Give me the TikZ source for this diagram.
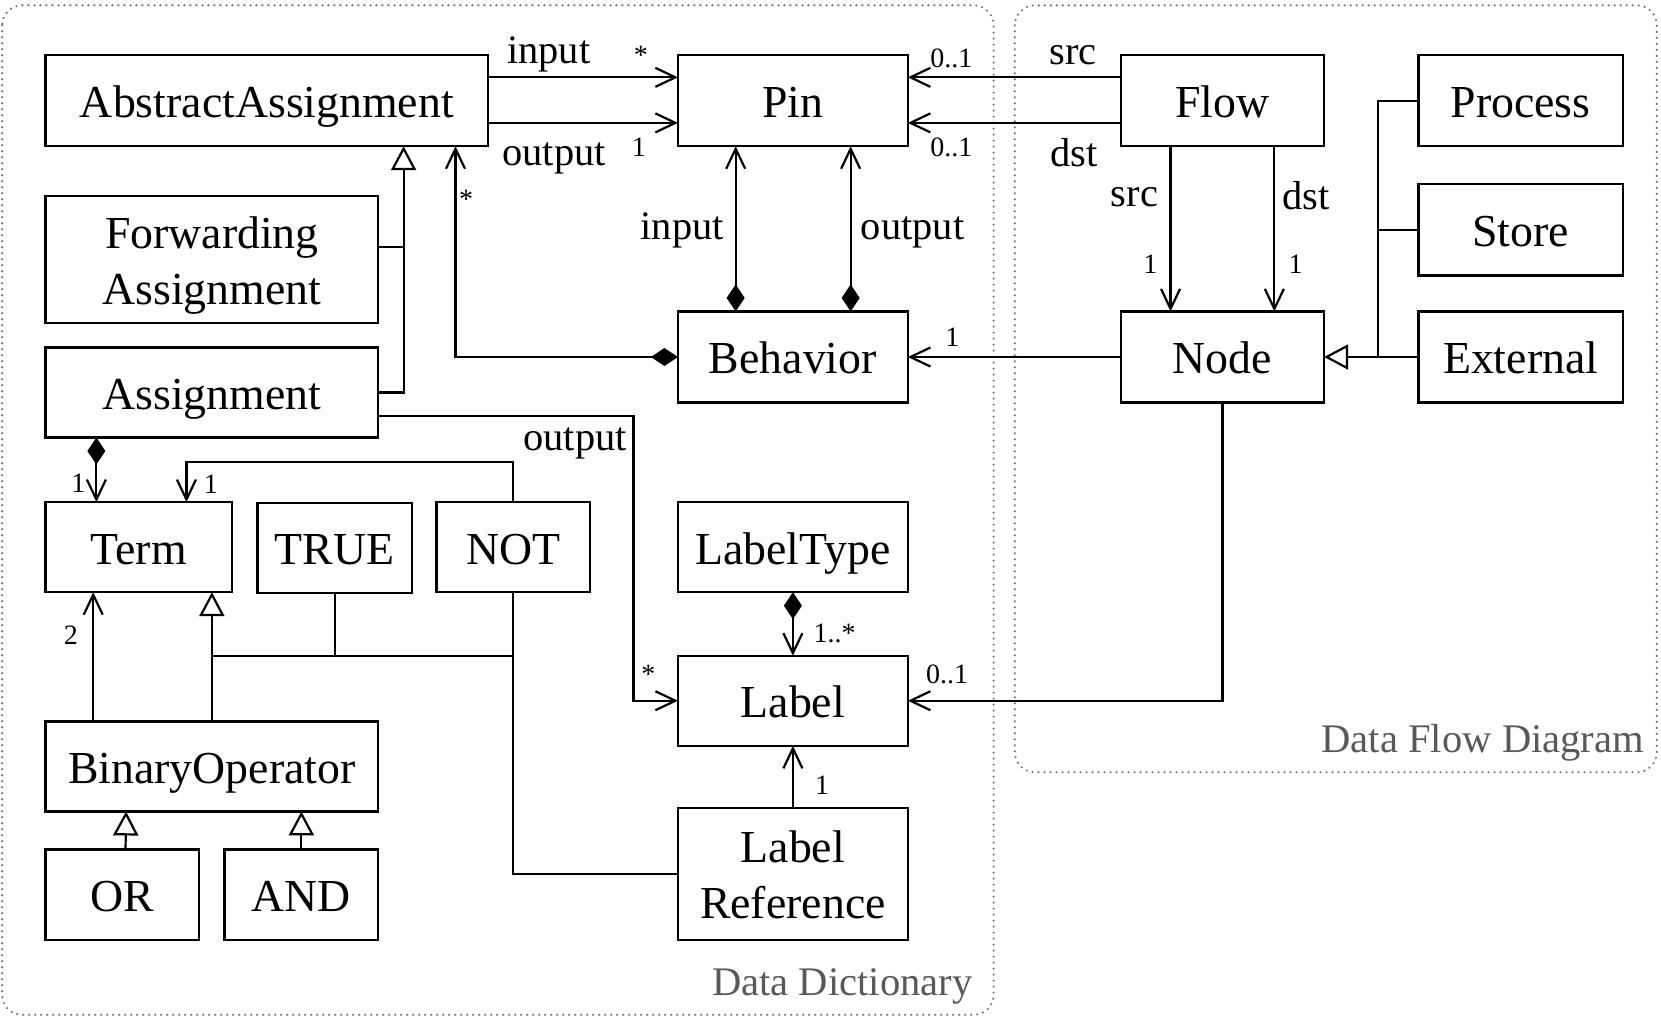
\documentclass[tikz,border=0pt]{standalone}
\usepackage{fontspec}
\setmainfont{Liberation Serif}
\usetikzlibrary{arrows.meta,calc}
\begin{document}
\begin{tikzpicture}[x=0.52966pt,y=-0.52966pt,
  every node/.style={inner sep=0pt, outer sep=0pt},
  cls/.style 2 args={draw, line width=1.1pt, minimum width=#1*0.52966pt, minimum height=#2*0.52966pt, font=\fontsize{22.9}{28}\selectfont, align=center, text depth=0pt, text height=17pt},
  twoline/.style={text height=44.5pt},
  lbl/.style={font=\fontsize{20.2}{24}\selectfont},
  mult/.style={font=\fontsize{14}{16}\selectfont},
  grp/.style={font=\fontsize{20.3}{24}\selectfont, text=black!65},
  conn/.style={line width=1.1pt},
  nav/.style={conn, -{Straight Barb[length=10pt,width=9.5pt]}},
  compnav/.style={conn, {Diamond[length=13.5pt,width=9pt]}-{Straight Barb[length=10pt,width=9.5pt]}},
  inh/.style={conn, -{Triangle[open,length=12pt,width=12.5pt,fill=white]}},
  container/.style={black!55, line width=1.2pt, dash pattern=on 0pt off 3pt, line cap=round, rounded corners=10pt}
]
\useasboundingbox (0,0) rectangle (1568,964);

% containers
\draw[container] (2,5) rectangle (938,958);
\draw[container] (958,5) rectangle (1564,729);
\node[grp, anchor=base east] (gdd) at (918,940) {Data Dictionary};
\node[grp, anchor=base east] (gdf) at (1552,710) {Data Flow Diagram};

% classes
\node[cls={418}{86}] (AA) at (252,95) {AbstractAssignment};
\node[cls={217}{86}] (Pin) at (748.5,95) {Pin};
\node[cls={192}{86}] (Flow) at (1154,95) {Flow};
\node[cls={193}{86}] (Process) at (1435.5,95) {Process};
\node[cls={314}{120}, twoline] (FA) at (200,245) {Forwarding\\Assignment};
\node[cls={193}{86}] (Store) at (1435.5,217) {Store};
\node[cls={314}{85}] (Assignment) at (200,370.5) {Assignment};
\node[cls={217}{86}] (Behavior) at (748.5,337) {Behavior};
\node[cls={192}{86}] (Node) at (1154,337) {Node};
\node[cls={193}{86}] (External) at (1435.5,337) {External};
\node[cls={176}{85}] (Term) at (131,516.5) {Term};
\node[cls={146}{85}] (TRUE) at (316,517) {TRUE};
\node[cls={145}{85}] (NOT) at (484.5,516.5) {NOT};
\node[cls={217}{85}] (LabelType) at (748.5,516.5) {LabelType};
\node[cls={217}{85}] (Label) at (748.5,661.5) {Label};
\node[cls={314}{85}] (BO) at (200,723.5) {BinaryOperator};
\node[cls={145}{85}] (OR) at (115.5,844.5) {OR};
\node[cls={145}{85}] (AND) at (284.5,844.5) {AND};
\node[cls={217}{124}, twoline] (LR) at (748.5,825) {Label\\Reference};

% AbstractAssignment -> Pin
\draw[nav] ($(AA.east)+(0,-22)$) -- ($(Pin.west)+(0,-22)$);
\draw[nav] ($(AA.east)+(0,21)$) -- ($(Pin.west)+(0,21)$);
\node[lbl, anchor=base] (tIn1) at (518,60) {input};
\node[mult] (mIn1) at (605,52) {*};
\node[lbl, anchor=base] (tOut1) at (523,156) {output};
\node[mult] (mOut1) at (603,139) {1};

% Flow -> Pin
\draw[nav] ($(Flow.west)+(0,-22)$) -- ($(Pin.east)+(0,-22)$);
\draw[nav] ($(Flow.west)+(0,21)$) -- ($(Pin.east)+(0,21)$);
\node[mult, anchor=base] (mSrcP) at (898,64) {0..1};
\node[mult, anchor=base] (mDstP) at (898,148) {0..1};
\node[lbl, anchor=base] (tSrcP) at (1013,61) {src};
\node[lbl, anchor=base] (tDstP) at (1014,157) {dst};

% Flow -> Node
\draw[nav] ($(Flow.south)+(-49,0)$) -- ($(Node.north)+(-49,0)$);
\draw[nav] ($(Flow.south)+(49,0)$) -- ($(Node.north)+(49,0)$);
\node[lbl, anchor=base] (tSrcN) at (1071,195) {src};
\node[lbl, anchor=base] (tDstN) at (1233,198) {dst};
\node[mult] (mSrcN) at (1086,249) {1};
\node[mult] (mDstN) at (1223,249) {1};

% Process/Store/External -> Node
\coordinate (gN) at (1301,337);
\draw[conn] (Process.west) -| (gN);
\draw[conn] (Store.west) -- (Store.west -| gN);
\draw[inh] (External.west) -- (Node.east);

% Node -> Behavior
\draw[nav] (Node.west) -- (Behavior.east);
\node[mult] (mBeh) at (899,318) {1};

% Behavior -> Pin
\draw[compnav] ($(Behavior.north)+(-54,0)$) -- ($(Pin.south)+(-54,0)$);
\draw[compnav] ($(Behavior.north)+(54.5,0)$) -- ($(Pin.south)+(54.5,0)$);
\node[lbl, anchor=base] (tIn2) at (644,226) {input};
\node[lbl, anchor=base] (tOut2) at (861.5,226) {output};

% Behavior -> AbstractAssignment
\draw[compnav] (Behavior.west) -| ($(AA.south)+(178,0)$);
\node[mult] (mAA) at (440,188) {*};

% generalization to AbstractAssignment
\coordinate (gA) at ($(AA.south)+(129,0)$);
\draw[inh] (Assignment.east) -| (gA);
\coordinate (fa1) at ($(FA.east)+(0,-12)$);
\draw[conn] (fa1) -- (fa1 -| gA);

% Assignment -> Label (output)
\draw[nav] ($(Assignment.east)+(0,22)$) -| ($(Label.west)+(-42,0)$) -- (Label.west);
\node[lbl, anchor=base] (tOut3) at (543,425) {output};
\node[mult] (mLab1) at (612,637) {*};

% Assignment -> Term
\draw[compnav] ($(Assignment.south)+(-109,0)$) -- ($(Term.north)+(-40,0)$);
\node[mult] (mT1) at (74,456) {1};

% NOT -> Term
\draw[nav] (NOT.north) -- ++(0,-38) -| ($(Term.north)+(45,0)$);
\node[mult] (mT2) at (199,457) {1};

% generalization to Term
\coordinate (tj) at (0,619);
\draw[inh] (BO.north) -- (BO.north |- Term.south);
\draw[conn] (BO.north |- tj) -- (NOT.south |- tj);
\draw[conn] (TRUE.south) -- (TRUE.south |- tj);
\draw[conn] (NOT.south) |- (LR.west);

% BinaryOperator -> Term
\draw[nav] ($(BO.north)+(-112,0)$) -- ($(Term.south)+(-43,0)$);
\node[mult] (mT3) at (67,600) {2};

% OR / AND -> BinaryOperator
\draw[inh] ($(OR.north)+(3,0)$) -- ($(BO.south)+(-81,0)$);
\draw[inh] (AND.north) -- ($(BO.south)+(84.5,0)$);

% LabelType -> Label
\draw[compnav] (LabelType.south) -- (Label.north);
\node[mult] (mLT) at (788,598) {1..*};

% LabelReference -> Label
\draw[nav] (LR.north) -- (Label.south);
\node[mult] (mLR) at (776,741) {1};

% Node -> Label
\draw[nav] (Node.south) |- (Label.east);
\node[mult] (mNL) at (894,637) {0..1};
\end{tikzpicture}
\end{document}
